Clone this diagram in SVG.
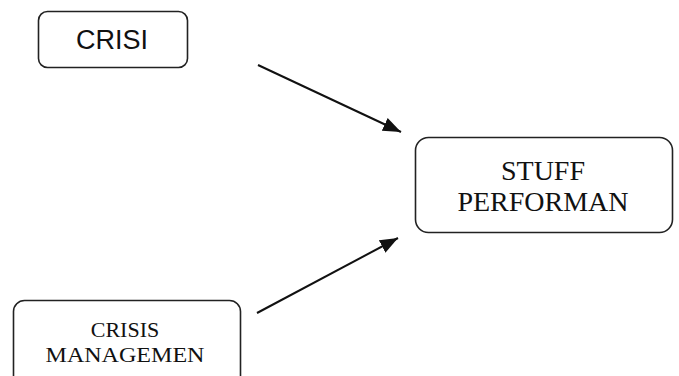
<svg xmlns="http://www.w3.org/2000/svg" width="679" height="376" viewBox="0 0 679 376">
<style>
.box{fill:#fff;stroke:#222;stroke-width:1.6}
.serif{font-family:"Liberation Serif","Times New Roman",serif;fill:#111;text-anchor:middle}
.sans{font-family:"Liberation Sans",Arial,sans-serif;fill:#111;text-anchor:middle}
.conn{stroke:#111;stroke-width:2;fill:none}
</style>
<defs>
<marker id="ah" viewBox="0 0 18 14" refX="18" refY="7" markerWidth="18" markerHeight="14" markerUnits="userSpaceOnUse" orient="auto">
<path d="M0,0 L18,7 L0,14 z" fill="#111"/>
</marker>
</defs>
<rect width="679" height="376" fill="#fff"/>
<g id="crisi">
<rect class="box" x="38.5" y="11.5" width="149" height="56" rx="9"/>
<text class="sans" x="112" y="49" font-size="27">CRISI</text>
</g>
<g id="stuff-performan">
<rect class="box" x="415.5" y="137.5" width="257" height="95" rx="13"/>
<text class="serif" x="543" y="180" font-size="28">STUFF</text>
<text class="serif" x="543" y="211" font-size="28">PERFORMAN</text>
</g>
<g id="crisis-managemen">
<rect class="box" x="13.5" y="300.5" width="227" height="90" rx="11"/>
<text class="serif" x="125" y="337" font-size="22">CRISIS</text>
<text class="serif" x="125" y="362" font-size="22" textLength="159" lengthAdjust="spacingAndGlyphs">MANAGEMEN</text>
</g>
<g id="connectors">
<line class="conn" x1="258" y1="65" x2="401" y2="132" marker-end="url(#ah)"/>
<line class="conn" x1="257" y1="313" x2="398" y2="238" marker-end="url(#ah)"/>
</g>
</svg>
